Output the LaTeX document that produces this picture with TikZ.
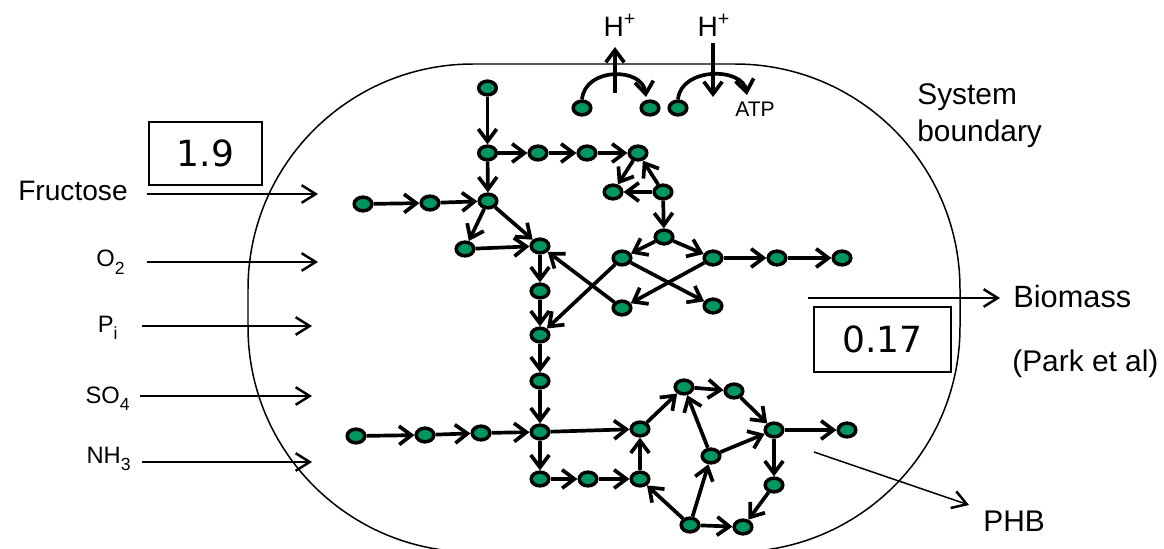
\documentclass[tikz,border=0pt]{standalone}
\usepackage{fontspec}
\setmainfont{Liberation Sans}
\newfontfamily\numfont{DejaVu Sans}
\usetikzlibrary{arrows.meta,shapes.geometric}

\definecolor{metgreen}{RGB}{0,150,96}
\newcommand{\chemsub}[1]{\raisebox{-0.32em}{\fontsize{10}{12}\selectfont #1}}

\begin{document}
\begin{tikzpicture}[
    >={Straight Barb[length=7pt,width=10.5pt]},
    met/.style={ellipse, draw, line width=2pt, fill=metgreen,
        minimum width=10pt, minimum height=7.8pt, inner sep=0pt},
    flux/.style={->, line width=2.1pt},
    feed/.style={-{Straight Barb[length=8pt,width=10pt,line width=1.4pt]}, line width=0.85pt},
    numbox/.style={draw, line width=0.8pt, font=\numfont\fontsize{20.5}{24}\selectfont},
    big/.style={font=\fontsize{17}{21}\selectfont, inner sep=0pt},
    small/.style={font=\fontsize{13.5}{16}\selectfont, inner sep=0pt}
]
\useasboundingbox (0,0) rectangle (23.28,10.96);

% System boundary
\draw[line width=0.85pt, rounded corners=4.5cm] (4.96,-0.08) rectangle (19.20,9.68);
\node[big, align=left, anchor=north west] (sysb) at (18.34,9.30) {System\\boundary};

% Inputs
\node[anchor=base east, font=\fontsize{16}{19}\selectfont, inner sep=0pt] (fru) at (2.56,6.94) {Fructose};
\node[small, anchor=base east] (oxy) at (2.50,5.62) {O\chemsub{2}};
\node[small, anchor=base east] (pho) at (2.36,4.32) {P\chemsub{i}};
\node[small, anchor=base east] (sul) at (2.60,2.90) {SO\chemsub{4}};
\node[small, anchor=base east] (amm) at (2.62,1.70) {NH\chemsub{3}};

\coordinate (fru-s) at (2.94,7.08);  \coordinate (fru-t) at (6.36,7.08);
\coordinate (oxy-s) at (2.94,5.72);  \coordinate (oxy-t) at (6.36,5.72);
\coordinate (pho-s) at (2.84,4.44);  \coordinate (pho-t) at (6.24,4.44);
\coordinate (sul-s) at (2.80,3.04);  \coordinate (sul-t) at (6.24,3.04);
\coordinate (amm-s) at (2.84,1.72);  \coordinate (amm-t) at (6.24,1.72);
\draw[feed] (fru-s) -- (fru-t);
\draw[feed] (oxy-s) -- (oxy-t);
\draw[feed] (pho-s) -- (pho-t);
\draw[feed] (sul-s) -- (sul-t);
\draw[feed] (amm-s) -- (amm-t);

\node[numbox, minimum width=2.26cm, minimum height=1.26cm] (fru-rate) at (4.11,7.89) {1.9};

% Outputs
\coordinate (bio-s) at (16.16,5.00);  \coordinate (bio-t) at (20.00,5.00);
\draw[feed] (bio-s) -- (bio-t);
\node[big, anchor=base west, font=\fontsize{17.5}{21}\selectfont] (bio) at (20.26,4.80) {Biomass};
\node[big, anchor=base west] (park) at (20.24,3.52) {(Park et al)};
\node[numbox, minimum width=2.74cm, minimum height=1.30cm] (bio-rate) at (17.65,4.17) {0.17};

\coordinate (phb-s) at (16.28,1.92);  \coordinate (phb-t) at (19.38,0.86);
\draw[feed] (phb-s) -- (phb-t);
\node[big, anchor=base west] (phb) at (19.66,0.34) {PHB};

% Proton exchange
\node[font=\fontsize{16}{19}\selectfont] (hout) at (12.40,10.46) {H\textsuperscript{+}};
\node[font=\fontsize{16}{19}\selectfont] (hin) at (14.28,10.46) {H\textsuperscript{+}};
\node[font=\fontsize{12}{14}\selectfont] (atp) at (15.10,8.78) {ATP};
\node[met] (q1) at (11.64,8.80) {};
\node[met] (q2) at (13.00,8.80) {};
\node[met] (q3) at (13.56,8.80) {};
\coordinate (pump1) at (12.30,9.10);  \coordinate (pump2) at (12.30,10.02);
\coordinate (syn1) at (14.26,10.10);  \coordinate (syn2) at (14.26,9.02);
\coordinate (q1-end) at (12.92,9.02); \coordinate (q3-end) at (14.94,9.06);
\draw[flux] (pump1) -- (pump2);
\draw[flux] (syn1) -- (syn2);
\draw[flux] (q1.north) .. controls (11.70,9.62) and (12.85,9.62) .. (q1-end);
\draw[flux] (q3.north) .. controls (13.62,9.62) and (14.85,9.62) .. (q3-end);

% Metabolites, upper part
\node[met] (t0) at (9.75,9.20) {};
\node[met] (a1) at (9.75,7.90) {};
\node[met] (a2) at (10.76,7.90) {};
\node[met] (a3) at (11.74,7.90) {};
\node[met] (a4) at (12.76,7.90) {};
\node[met] (b1) at (7.26,6.88) {};
\node[met] (b2) at (8.60,6.90) {};
\node[met] (b3) at (9.76,6.94) {};
\node[met] (c1) at (9.30,5.98) {};
\node[met] (d1) at (10.80,6.04) {};
\node[met] (d2) at (10.80,5.14) {};
\node[met] (d3) at (10.80,4.26) {};
\node[met] (d4) at (10.80,3.34) {};
\node[met] (d5) at (10.80,2.32) {};
\node[met] (e1) at (12.26,7.12) {};
\node[met] (e2) at (13.26,7.12) {};
\node[met] (e3) at (13.28,6.22) {};
\node[met] (f1) at (12.44,5.80) {};
\node[met] (f2) at (14.26,5.80) {};
\node[met] (f3) at (15.54,5.80) {};
\node[met] (f4) at (16.84,5.80) {};
\node[met] (g1) at (12.44,4.80) {};
\node[met] (g2) at (14.26,4.84) {};

% Metabolites, lower part
\node[met] (h1) at (7.12,2.24) {};
\node[met] (h2) at (8.50,2.26) {};
\node[met] (h3) at (9.62,2.30) {};
\node[met] (i1) at (10.80,1.38) {};
\node[met] (i2) at (11.76,1.38) {};
\node[met] (i3) at (12.80,1.38) {};
\node[met] (j1) at (12.80,2.38) {};
\node[met] (k1) at (13.68,3.22) {};
\node[met] (k2) at (14.68,3.14) {};
\node[met] (m1) at (15.48,2.36) {};
\node[met] (m2) at (16.94,2.36) {};
\node[met] (n1) at (14.22,1.84) {};
\node[met] (o1) at (15.48,1.26) {};
\node[met] (p1) at (13.80,0.46) {};
\node[met] (p2) at (14.86,0.42) {};

% Reactions, upper part
\draw[flux] (t0) -- (a1);
\draw[flux] (a1) -- (a2);
\draw[flux] (a2) -- (a3);
\draw[flux] (a3) -- (a4);
\draw[flux] (a1) -- (b3);
\draw[flux] (b1) -- (b2);
\draw[flux] (b2) -- (b3);
\draw[flux] (b3) -- (c1);
\draw[flux] (b3) -- (d1);
\draw[flux] (c1) -- (d1);
\draw[flux] (d1) -- (d2);
\draw[flux] (d2) -- (d3);
\draw[flux] (d3) -- (d4);
\draw[flux] (d4) -- (d5);
\draw[flux] (a4) -- (e1);
\draw[flux] (e2) -- (a4);
\draw[flux] (e2) -- (e1);
\draw[flux] (e2) -- (e3);
\draw[flux] (e3) -- (f1);
\draw[flux] (e3) -- (f2);
\draw[flux] (f2) -- (f3);
\draw[flux] (f3) -- (f4);
\draw[flux] (f1) -- (g2);
\draw[flux] (f2) -- (g1);
\draw[flux] (f1) -- (d3);
\draw[flux] (g1) -- (d1);

% Reactions, lower part
\draw[flux] (h1) -- (h2);
\draw[flux] (h2) -- (h3);
\draw[flux] (h3) -- (d5);
\draw[flux] (d5) -- (i1);
\draw[flux] (d5) -- (j1);
\draw[flux] (i1) -- (i2);
\draw[flux] (i2) -- (i3);
\draw[flux] (i3) -- (j1);
\draw[flux] (j1) -- (k1);
\draw[flux] (k1) -- (k2);
\draw[flux] (k2) -- (m1);
\draw[flux] (m1) -- (m2);
\draw[flux] (m1) -- (o1);
\draw[flux] (o1) -- (p2);
\draw[flux] (n1) -- (k1);
\draw[flux] (n1) -- (m1);
\draw[flux] (p1) -- (n1);
\draw[flux] (p1) -- (i3);
\draw[flux] (p1) -- (p2);

\end{tikzpicture}
\end{document}
